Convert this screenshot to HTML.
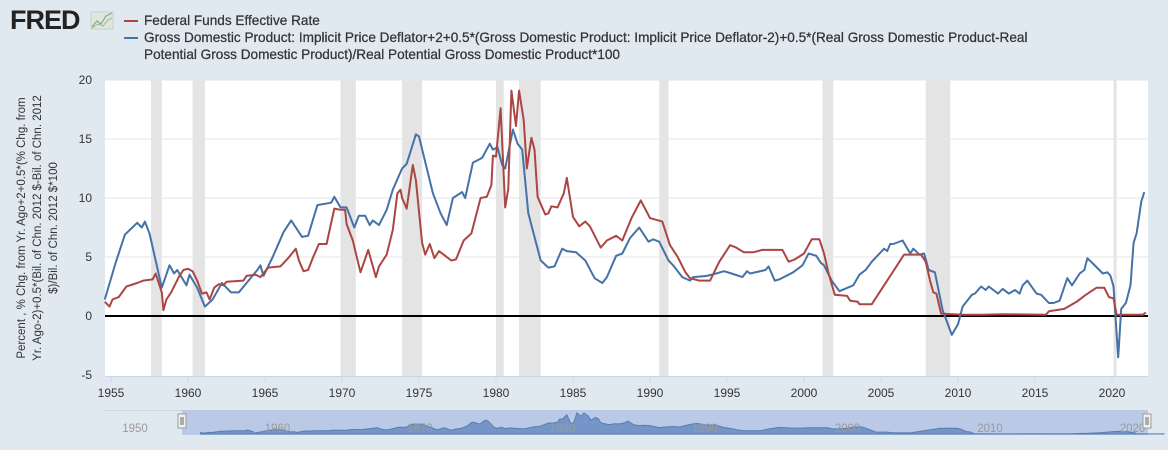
<!DOCTYPE html>
<html><head><meta charset="utf-8">
<style>
html,body{margin:0;padding:0;background:#e1e9f0;width:1168px;height:450px;overflow:hidden;font-family:"Liberation Sans",sans-serif}
svg{display:block}
</style></head>
<body>
<svg id="chart" width="1168" height="450" xmlns="http://www.w3.org/2000/svg">
  <rect x="0" y="0" width="1168" height="450" fill="#e1e9f0"/>
  <g>
    <text x="10" y="29" font-size="27" font-weight="bold" fill="#222" letter-spacing="-1">FRED</text>
    <rect x="91" y="12" width="22" height="17" fill="#dfe6df" stroke="#c8d0c8"/>
    <polyline points="92,27 97,21 101,24 106,16 112,13" fill="none" stroke="#7fb07f" stroke-width="1.2"/>
    <polyline points="92,28 98,24 103,26 108,20 112,18" fill="none" stroke="#9ab89a" stroke-width="1"/>
  </g>
  <g font-size="13.6" fill="#333" stroke="#333" stroke-width="0.25">
    <g>
      <line x1="124" y1="21" x2="138" y2="21" stroke="#aa4643" stroke-width="2"/>
      <text x="144" y="25">Federal Funds Effective Rate</text>
    </g>
    <g>
      <line x1="124" y1="38" x2="138" y2="38" stroke="#4572a7" stroke-width="2"/>
      <text x="144" y="42">Gross Domestic Product: Implicit Price Deflator+2+0.5*(Gross Domestic Product: Implicit Price Deflator-2)+0.5*(Real Gross Domestic Product-Real</text>
      <text x="144" y="59">Potential Gross Domestic Product)/Real Potential Gross Domestic Product*100</text>
    </g>
  </g>
  <g font-size="11.5" fill="#333">
    <text transform="translate(25,228) rotate(-90)" text-anchor="middle">Percent , % Chg. from Yr. Ago+2+0.5*(% Chg. from</text>
    <text transform="translate(41,228) rotate(-90)" text-anchor="middle">Yr. Ago-2)+0.5*(Bil. of Chn. 2012 $-Bil. of Chn. 2012</text>
    <text transform="translate(57,228) rotate(-90)" text-anchor="middle">$)/Bil. of Chn. 2012 $*100</text>
  </g>
  <rect x="105" y="80" width="1043" height="296" fill="#fff"/>
  <g id="rec"></g>
  <g id="grid"></g>
  <g id="series"></g>
  <g id="xaxis"></g>
  <g id="nav"></g>
</svg>
<script>
const NS='http://www.w3.org/2000/svg';
const yTicks=[-5,0,5,10,15,20];
const xTicks=[1955,1960,1965,1970,1975,1980,1985,1990,1995,2000,2005,2010,2015,2020];
const navTicks=[1950,1960,1970,1980,1990,2000,2010,2020];
const recessions=[[1957.6,1958.3],[1960.3,1961.1],[1969.9,1970.9],[1973.9,1975.2],[1980.0,1980.5],[1981.5,1982.9],[1990.6,1991.2],[2001.2,2001.9],[2007.9,2009.5],[2020.1,2020.3]];
const fedYears=[1954.6,1954.9,1955.1,1955.5,1956.0,1956.7,1957.1,1957.7,1957.9,1958.3,1958.4,1958.6,1958.9,1959.4,1959.7,1960.0,1960.3,1960.6,1960.9,1961.2,1961.4,1961.7,1962.0,1962.3,1962.5,1963.6,1963.8,1964.4,1964.7,1965.2,1966.0,1966.5,1967.0,1967.2,1967.5,1967.8,1968.1,1968.5,1969.0,1969.5,1969.9,1970.2,1970.3,1970.7,1971.2,1971.7,1972.2,1972.4,1972.9,1973.3,1973.6,1973.8,1973.9,1974.2,1974.6,1974.8,1975.2,1975.4,1975.7,1976.0,1976.3,1976.7,1977.1,1977.4,1977.9,1978.4,1979.0,1979.4,1979.7,1979.8,1980.0,1980.3,1980.6,1980.8,1981.0,1981.3,1981.5,1981.8,1982.0,1982.3,1982.5,1982.7,1983.2,1983.4,1983.6,1984.0,1984.4,1984.6,1985.0,1985.4,1985.8,1986.1,1986.8,1987.2,1987.8,1988.2,1988.8,1989.4,1990.0,1990.8,1991.3,1991.8,1992.3,1992.6,1993.2,1993.9,1994.5,1995.2,1995.6,1996.1,1996.7,1997.3,1998.6,1999.0,1999.4,2000.0,2000.5,2001.0,2001.3,2001.6,2002.0,2002.8,2003.0,2003.5,2003.6,2004.4,2006.5,2007.6,2007.9,2008.2,2008.4,2008.6,2008.9,2010.3,2011.1,2011.6,2012.9,2015.7,2015.9,2016.9,2017.7,2018.3,2019.0,2019.5,2019.8,2020.1,2020.3,2022.0,2022.2];
const fedValues=[1.2,0.8,1.4,1.6,2.5,2.8,3.0,3.1,3.6,2.0,0.5,1.4,2.0,3.3,3.9,4.0,3.8,3.0,1.9,2.0,1.4,2.4,2.7,2.6,2.9,3.0,3.4,3.5,3.3,4.1,4.2,4.9,5.7,4.7,3.8,3.9,4.9,6.1,6.1,9.1,9.0,9.0,7.8,6.4,3.7,5.6,3.3,4.2,5.2,7.3,10.4,10.7,10.0,9.1,12.8,11.5,6.2,5.2,6.1,4.9,5.5,5.1,4.7,4.8,6.4,7.0,10.0,10.1,11.1,13.6,13.5,17.6,9.2,10.8,19.1,16.1,19.1,16.6,12.5,15.1,14.1,10.1,8.6,8.7,9.3,9.2,10.4,11.7,8.4,7.6,8.0,7.6,5.8,6.4,6.8,6.4,8.3,9.8,8.3,8.0,6.0,5.0,3.7,3.2,3.0,3.0,4.6,6.0,5.8,5.4,5.4,5.6,5.6,4.6,4.8,5.3,6.5,6.5,5.3,3.6,1.8,1.7,1.3,1.2,1.0,1.0,5.2,5.2,4.6,2.9,2.0,1.9,0.2,0.1,0.1,0.1,0.15,0.1,0.4,0.6,1.2,1.8,2.4,2.4,1.6,1.5,0.1,0.1,0.3];
const taylorYears=[1954.6,1955.3,1955.9,1956.7,1957.0,1957.2,1957.5,1958.3,1958.8,1959.1,1959.3,1959.9,1960.1,1960.6,1961.1,1961.6,1962.2,1962.8,1963.3,1964.5,1964.7,1964.9,1965.5,1966.2,1966.7,1967.4,1967.8,1968.4,1969.3,1969.5,1969.9,1970.3,1970.8,1971.1,1971.5,1971.8,1972.0,1972.4,1972.9,1973.3,1973.9,1974.2,1974.8,1975.0,1975.9,1976.4,1976.8,1977.2,1977.8,1978.0,1978.5,1979.1,1979.6,1979.8,1980.1,1980.4,1980.6,1981.1,1981.4,1981.7,1982.1,1982.9,1983.4,1983.8,1984.3,1984.6,1985.2,1985.8,1986.4,1986.9,1987.2,1987.8,1988.2,1988.7,1989.3,1989.9,1990.2,1990.6,1991.2,1991.5,1992.1,1992.6,1992.8,1993.7,1994.3,1994.8,1995.3,1996.0,1996.3,1996.5,1997.5,1997.7,1998.1,1998.4,1999.3,1999.9,2000.3,2000.8,2001.1,2001.3,2001.8,2002.3,2003.2,2003.6,2004.0,2004.4,2005.2,2005.4,2005.6,2005.8,2006.4,2006.9,2007.1,2007.5,2007.8,2008.1,2008.5,2009.0,2009.6,2010.0,2010.3,2010.9,2011.1,2011.5,2011.8,2012.0,2012.6,2012.9,2013.3,2013.7,2014.0,2014.2,2014.5,2015.1,2015.4,2015.9,2016.2,2016.6,2017.1,2017.4,2017.9,2018.2,2018.4,2018.8,2019.4,2019.7,2019.9,2020.1,2020.4,2020.6,2020.9,2021.2,2021.4,2021.6,2021.9,2022.1];
const taylorValues=[1.4,4.5,6.9,7.9,7.5,8.0,7.0,2.4,4.3,3.6,3.9,2.6,3.5,2.4,0.8,1.4,2.8,2.0,2.0,3.9,4.3,3.4,5.0,7.1,8.1,6.7,6.8,9.4,9.6,10.1,9.2,9.2,7.5,8.5,8.5,7.7,8.1,7.7,9.0,10.7,12.5,12.9,15.4,15.2,10.4,8.7,7.7,10.0,10.5,10.0,13.0,13.4,14.6,14.1,14.3,12.8,12.5,15.8,14.6,14.1,8.7,4.7,4.1,4.2,5.7,5.5,5.4,4.7,3.2,2.8,3.3,5.1,5.3,6.6,7.5,6.3,6.5,6.3,4.7,4.3,3.3,3.0,3.3,3.4,3.6,3.8,3.6,3.3,3.8,3.6,3.9,4.2,3.0,3.1,3.7,4.3,5.3,5.1,4.5,4.3,3.0,2.1,2.6,3.5,3.9,4.6,5.7,5.5,6.1,6.1,6.4,5.3,5.7,5.2,5.3,3.9,3.7,0.5,-1.6,-0.7,0.8,1.8,1.9,2.5,2.2,2.5,1.9,2.3,1.9,2.2,1.9,2.6,3.0,1.9,1.8,1.1,1.1,1.3,3.2,2.6,3.6,3.9,4.9,4.4,3.6,3.7,3.4,2.5,-3.5,0.6,1.1,2.6,6.2,7.0,9.7,10.5];

const L=105,R=1148,T=80,B=376;
const x=yr=>111+(yr-1955)*15.4;
const y=v=>316-v*11.8;
const nx=yr=>135+(yr-1950)*14.25;
const ny=v=>434-v*1.1;
function mk(tag,attrs,parent){const e=document.createElementNS(NS,tag);for(const k in attrs)e.setAttribute(k,attrs[k]);parent.appendChild(e);return e;}

const rec=document.getElementById('rec');
recessions.forEach(r=>{
  const e=mk('rect',{x:x(r[0]),y:T,width:Math.max(2,x(r[1])-x(r[0])),height:B-T,fill:'#e4e4e4'},rec);
  
  
});
const grid=document.getElementById('grid');
yTicks.forEach(v=>{
  if(v!==0&&v!==-5){const g=mk('line',{x1:L,x2:R,y1:y(v),y2:y(v),stroke:'#e6e6e6','stroke-width':1},grid);
  
  }
  const t=mk('text',{x:92,y:y(v)+4,'text-anchor':'end','font-size':12,fill:'#333'},grid);
  t.textContent=v;
  
  
});
const zl=mk('line',{x1:L,x2:R,y1:y(0),y2:y(0),stroke:'#000','stroke-width':2},grid);



const ser=document.getElementById('series');
function path(xs,vs,col,name){
  const d=xs.map((t,i)=>(i?'L':'M')+x(t).toFixed(1)+','+y(vs[i]).toFixed(1)).join('');
  const p=mk('path',{d:d,fill:'none',stroke:col,'stroke-width':2,'stroke-linejoin':'round'},ser);
  
  
}
path(taylorYears,taylorValues,'#4572a7','taylor-rule-line');
path(fedYears,fedValues,'#aa4643','fed-funds-line');

const xa=document.getElementById('xaxis');
const ax=mk('line',{x1:L,x2:R,y1:B+0.5,y2:B+0.5,stroke:'#ccd6eb'},xa);


xTicks.forEach(t=>{
  mk('line',{x1:x(t),x2:x(t),y1:B,y2:B+6,stroke:'#ccd6eb'},xa);
  const e=mk('text',{x:x(t),y:397,'text-anchor':'middle','font-size':12,fill:'#333'},xa);
  e.textContent=t;
  
  
});

const nav=document.getElementById('nav');
const nb=mk('line',{x1:L,x2:R,y1:410.5,y2:410.5,stroke:'#ccd6eb'},nav);


const sel=mk('rect',{x:182,y:410,width:R-182,height:25,fill:'#b6c6e4',opacity:0.9},nav);


const nd='M'+nx(fedYears[0])+',434'+fedYears.map((t,i)=>'L'+nx(t).toFixed(1)+','+ny(fedValues[i]).toFixed(1)).join('')+'L'+nx(fedYears[fedYears.length-1])+',434Z';
const na=mk('path',{d:nd,fill:'#6a8cc4',stroke:'#4572a7','stroke-width':1,opacity:0.85},nav);


navTicks.forEach(t=>{
  const e=mk('text',{x:nx(t),y:432,'text-anchor':'middle','font-size':11.5,fill:'#999'},nav);
  e.textContent=t;
  
  
});
[182,1147].forEach((hx,i)=>{
  const h=mk('rect',{x:hx-4,y:414,width:8,height:14,fill:'#f2f2f2',stroke:'#999'},nav);
  
  
  mk('line',{x1:hx-1,x2:hx-1,y1:417,y2:425,stroke:'#666'},nav);
  mk('line',{x1:hx+1,x2:hx+1,y1:417,y2:425,stroke:'#666'},nav);
});
</script>
</body></html>
